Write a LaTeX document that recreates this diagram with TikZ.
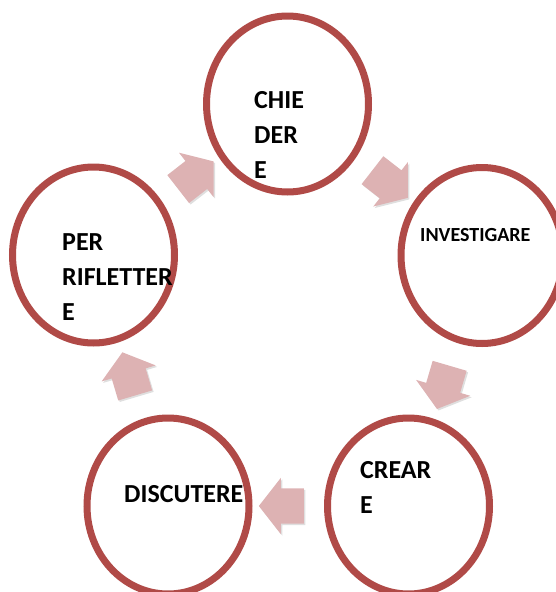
\documentclass[tikz,border=0pt]{standalone}
\usepackage{fontspec}
\setmainfont{Carlito}
\usetikzlibrary{shapes.geometric,shapes.arrows,shadows}

\definecolor{ringred}{RGB}{176,74,71}
\definecolor{arrowpink}{RGB}{221,178,179}

\tikzset{
  stage/.style={ellipse,draw=ringred,line width=7pt,fill=white,
    minimum width=162pt,minimum height=176pt,inner sep=0pt},
  stagetext/.style={anchor=base west,align=left,inner sep=0pt,
    font=\bfseries\fontsize{26}{35}\selectfont},
  cyclearrow/.style={single arrow,fill=arrowpink,draw=none,sloped,allow upside down,
    minimum height=45pt,minimum width=56pt,inner sep=0pt,
    text height=17.5pt,text depth=17.5pt,
    single arrow head extend=10.5pt,single arrow tip angle=104,
    drop shadow={opacity=0.25,shadow xshift=1.5pt,shadow yshift=-1.5pt}}
}

\begin{document}
\begin{tikzpicture}[x=1pt,y=-1pt]
  \useasboundingbox (0,0) rectangle (555,592);

  \node[stage] (chiedere) at (287.5,104) {};
  \node[stage] (investigare) at (482,255.5) {};
  \node[stage] (creare) at (408.5,506) {};
  \node[stage] (discutere) at (168,506) {};
  \node[stage] (riflettere) at (93.5,255) {};

  % base anchor sits on the last line
  \node[stagetext] (chiedere-txt) at (254,178) {CHIE\\DER\\E};
  \node[stagetext,font=\bfseries\fontsize{20}{24}\selectfont] (investigare-txt) at (420,241) {INVESTIGARE};
  \node[stagetext] (creare-txt) at (360,513) {CREAR\\E};
  \node[stagetext] (discutere-txt) at (124,502) {DISCUTERE};
  \node[stagetext] (riflettere-txt) at (62,320) {PER\\RIFLETTER\\E};

  \path (chiedere.center) -- node[cyclearrow] (a1) {} (investigare.center);
  \path (investigare.center) -- node[cyclearrow] (a2) {} (creare.center);
  \path (creare.center) -- node[cyclearrow] (a3) {} (discutere.center);
  \path (discutere.center) -- node[cyclearrow] (a4) {} (riflettere.center);
  \path (riflettere.center) -- node[cyclearrow] (a5) {} (chiedere.center);
\end{tikzpicture}
\end{document}
